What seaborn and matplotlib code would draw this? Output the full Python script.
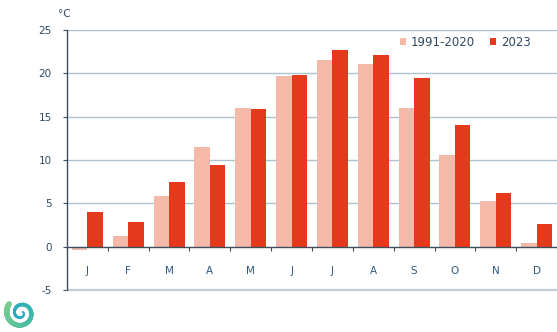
import numpy as np
import pandas as pd
import matplotlib
matplotlib.use("Agg")
import matplotlib.pyplot as plt
import seaborn as sns

months = ["J", "F", "M", "A", "M", "J", "J", "A", "S", "O", "N", "D"]
normal_1991_2020 = [-0.4, 1.2, 5.8, 11.5, 16.0, 19.7, 21.5, 21.1, 16.0, 10.6, 5.3, 0.4]
year_2023 = [4.0, 2.9, 7.5, 9.4, 15.9, 19.8, 22.7, 22.1, 19.5, 14.0, 6.2, 2.6]
series_names = ["1991-2020", "2023"]
y_ticks = [-5, 0, 5, 10, 15, 20, 25]

sns.set_theme(style="white")
plt.rcParams['font.family'] = ['DejaVu Sans']

rows = []
for i, m in enumerate(months):
    rows.append({"idx": i, "series": series_names[0], "value": normal_1991_2020[i]})
    rows.append({"idx": i, "series": series_names[1], "value": year_2023[i]})
df = pd.DataFrame(rows)

light = "#F5B9AA"
dark = "#E5391C"
grid_c = "#AFC2CF"
axis_c = "#3E4E5C"
text_c = "#2F4860"

fig = plt.figure(figsize=(5.57, 3.32), dpi=100)
ax = fig.add_axes([67/557, 1 - 290/332, 1 - 67/557, 260/332])

sns.barplot(data=df, x="idx", y="value", hue="series", order=list(range(12)),
            palette=[light, dark], width=0.76, gap=0.0, ax=ax, saturation=1,
            linewidth=0, legend=True, zorder=3)

ax.set_xlim(-0.5, 11.5)
ax.set_ylim(-5, 25)
ax.set_xlabel("")
ax.set_ylabel("")

for y in [5, 10, 15, 20, 25]:
    ax.axhline(y, color=grid_c, lw=1.0, zorder=1)
ax.axhline(-5, color="#C3CDD5", lw=1.6, zorder=1, clip_on=False)

for s in ["top", "right"]:
    ax.spines[s].set_visible(False)
ax.spines["left"].set_color(axis_c)
ax.spines["left"].set_linewidth(1.0)
ax.spines["bottom"].set_position(("data", 0))
ax.spines["bottom"].set_color(axis_c)
ax.spines["bottom"].set_linewidth(1.0)
ax.spines["bottom"].set_zorder(5)

ax.set_yticks(y_ticks)
ax.set_yticklabels([str(v) for v in y_ticks], color=text_c, fontsize=7.5)
ax.tick_params(axis="y", direction="out", length=3, width=0.8, color=axis_c, pad=8, left=True)

ax.set_xticks(range(12))
ax.set_xticklabels(months, color="#2F5A80", fontsize=7.5)
ax.set_xticks(np.arange(-0.5, 12, 1), minor=True)
ax.tick_params(axis="x", which="major", length=0, pad=14, bottom=True)
ax.tick_params(axis="x", which="minor", direction="out", length=3, width=0.8, color=axis_c, bottom=True)

fig.text(64/557, 1 - 14/332, "°C", color=text_c, fontsize=7.5, ha="center", va="center")

leg = ax.legend(loc="center left", bbox_to_anchor=((400 - 67) / 490, (247 - 42) / 260 + 5/30*0 + (42 - 42) / 260),
                frameon=False, ncol=2,
                fontsize=8.5, handlelength=0.5, handleheight=0.5, handletextpad=0.4,
                columnspacing=1.3, labelcolor=text_c, borderaxespad=0, borderpad=0)
# place legend centered at y=42px from top
leg.set_bbox_to_anchor(((400 - 67) / 490, (290 - 42) / 260), transform=ax.transAxes)

# logo swirl
lax = fig.add_axes([4/557, 1 - 330/332, 34/557, 34/332])
lax.set_axis_off()
t = np.linspace(0, 3.4 * np.pi, 220)
r = 0.12 + 0.85 * t / t.max()
xs = r * np.cos(-t + 0.6)
ys = r * np.sin(-t + 0.6)
cmap = matplotlib.colors.LinearSegmentedColormap.from_list("sw", ["#3FB3C8", "#28A8C8", "#3BB9A8", "#7CCB8E"])
for k in range(len(t) - 1):
    lax.plot(xs[k:k+2], ys[k:k+2], color=cmap(k / len(t)), lw=1 + 3.0 * k / len(t), solid_capstyle="round")
lax.set_xlim(-1.1, 1.1)
lax.set_ylim(-1.1, 1.1)
lax.set_aspect("equal")

fig.savefig("out.png", dpi=100)
